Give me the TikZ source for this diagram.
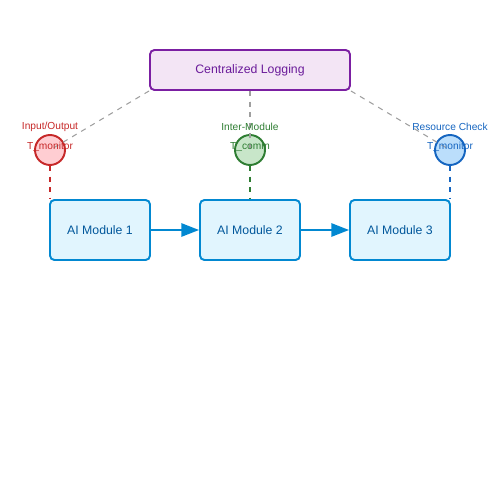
\documentclass[tikz,border=0pt]{standalone}
\usepackage{fontspec}
\setmainfont{Liberation Sans}
\usetikzlibrary{arrows.meta}
\definecolor{logfill}{HTML}{F3E5F5}
\definecolor{logdraw}{HTML}{7B1FA2}
\definecolor{logtext}{HTML}{6A1B9A}
\definecolor{modfill}{HTML}{E1F5FE}
\definecolor{moddraw}{HTML}{0288D1}
\definecolor{modtext}{HTML}{01579B}
\definecolor{redfill}{HTML}{FFCDD2}
\definecolor{reddraw}{HTML}{C62828}
\definecolor{greenfill}{HTML}{C8E6C9}
\definecolor{greendraw}{HTML}{2E7D32}
\definecolor{bluefill}{HTML}{BBDEFB}
\definecolor{bluedraw}{HTML}{1565C0}
\begin{document}
\begin{tikzpicture}[x=0.02cm,y=-0.02cm,
    modbox/.style={draw=moddraw, fill=modfill, line width=1.1pt, rounded corners=2.5pt,
        minimum width=2cm, minimum height=1.2cm, text=modtext, font=\fontsize{7}{8}\selectfont},
    probe/.style={circle, line width=1.1pt, minimum size=0.6cm, inner sep=0pt},
    tag/.style={font=\fontsize{5.8}{7}\selectfont, inner sep=0pt},
    link/.style={draw=gray!75, dashed, line width=0.6pt},
    flow/.style={draw=moddraw, line width=1.1pt, -{Triangle[length=10pt,width=7.5pt]}}]
    \useasboundingbox (0,0) rectangle (500,500);

    % Registro central
    \node[draw=logdraw, fill=logfill, line width=1.1pt, rounded corners=2.5pt,
        minimum width=4cm, minimum height=0.8cm, text=logtext,
        font=\fontsize{7}{8}\selectfont] (log) at (250,70) {Centralized Logging};

    % Sondas
    \node[probe, draw=reddraw, fill=redfill] (p1) at (50,150) {};
    \node[probe, draw=greendraw, fill=greenfill] (p2) at (250,150) {};
    \node[probe, draw=bluedraw, fill=bluefill] (p3) at (450,150) {};

    % Lineas al registro
    \draw[link] (log.south west) -- (p1.center);
    \draw[link] (log.south) -- (p2.center);
    \draw[link] (log.south east) -- (p3.center);

    % Etiquetas
    \node[tag, text=reddraw] (l1) at (50,127) {Input/Output};
    \node[tag, text=reddraw] (t1) at (50,147) {T\_monitor};
    \node[tag, text=greendraw] (l2) at (250,127) {Inter-Module};
    \node[tag, text=greendraw] (t2) at (250,147) {T\_comm};
    \node[tag, text=bluedraw] (l3) at (450,127) {Resource Check};
    \node[tag, text=bluedraw] (t3) at (450,147) {T\_monitor};

    % Modulos
    \node[modbox] (m1) at (100,230) {AI Module 1};
    \node[modbox] (m2) at (250,230) {AI Module 2};
    \node[modbox] (m3) at (400,230) {AI Module 3};

    % Flechas
    \draw[flow] (m1) -- (m2);
    \draw[flow] (m2) -- (m3);

    % Conexiones verticales
    \draw[reddraw, dashed, line width=0.8pt] (p1.south) -- (p1.south |- m1.north);
    \draw[greendraw, dashed, line width=0.8pt] (p2.south) -- (m2.north);
    \draw[bluedraw, dashed, line width=0.8pt] (p3.south) -- (p3.south |- m3.north);
\end{tikzpicture}
\end{document}
